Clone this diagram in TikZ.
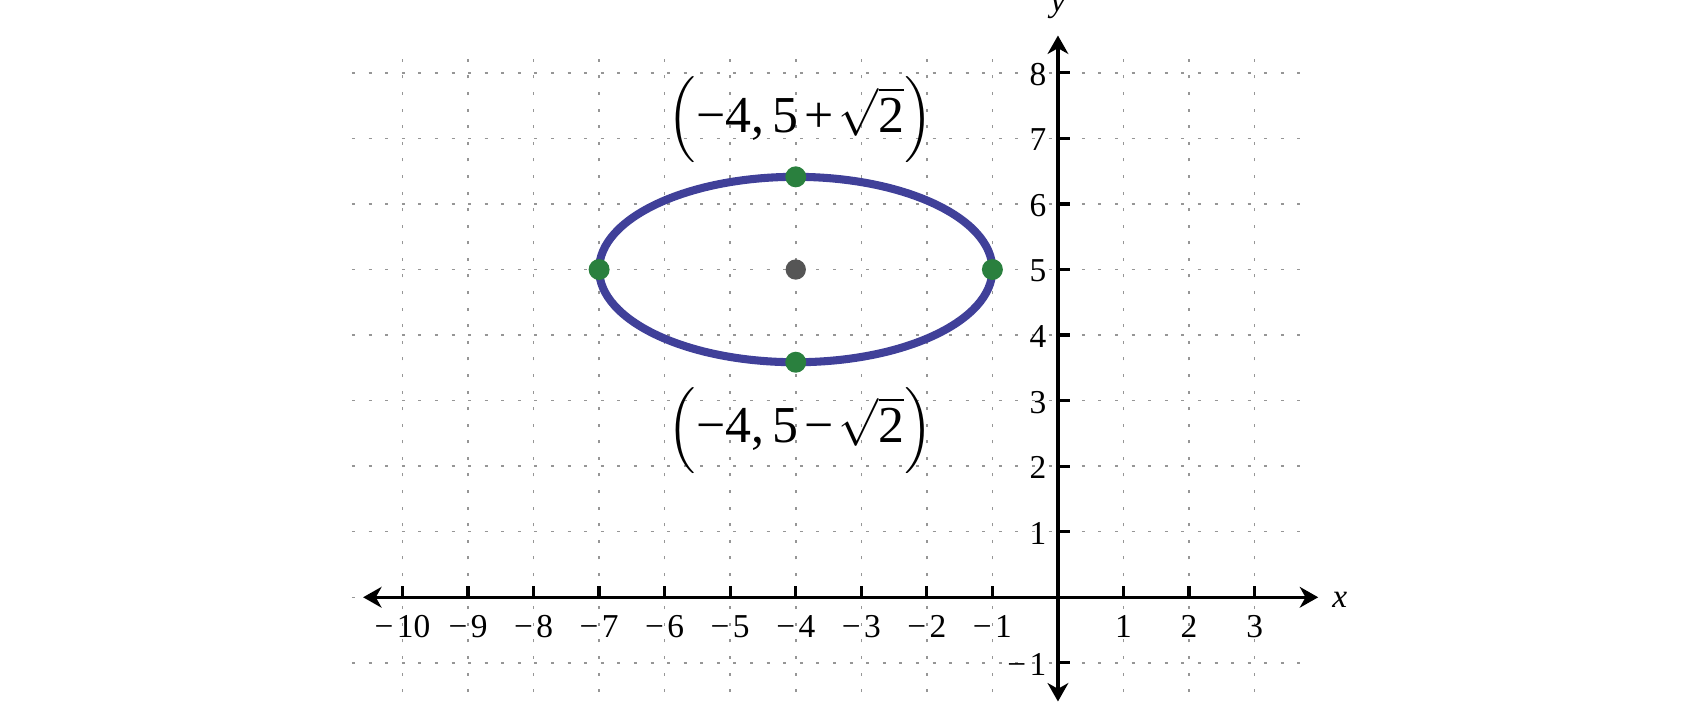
\documentclass[tikz,border=0pt]{standalone}
\usepackage{amsmath}
\usepackage{fontspec}
\setmainfont{Liberation Serif}
\usetikzlibrary{arrows.meta}
\definecolor{ellblue}{RGB}{64,64,153}
\definecolor{ptgreen}{RGB}{42,128,62}
\definecolor{ctrgray}{RGB}{85,85,85}
\definecolor{gridgray}{RGB}{150,150,150}
\begin{document}
\begin{tikzpicture}[
  gridline/.style={gridgray, line width=0.65pt, dash pattern=on 1.3pt off 5.9pt},
  axisline/.style={line width=1.4pt, {Stealth[length=8pt,width=9pt,inset=2.5pt]}-{Stealth[length=8pt,width=9pt,inset=2.5pt]}},
  tickline/.style={line width=1.4pt},
  ticklabel/.style={font=\fontsize{14.5}{16}\selectfont, inner sep=0pt},
  axislabel/.style={font=\fontsize{14.5}{16}\selectfont\itshape, inner sep=0pt},
  ptlabel/.style={font=\fontsize{22.5}{27}\selectfont, inner sep=0pt},
  vertexdot/.style={circle, fill=ptgreen, minimum size=0.32cm, inner sep=0pt},
  centerdot/.style={circle, fill=ctrgray, minimum size=0.31cm, inner sep=0pt}
]
\useasboundingbox (-16.14,-1.628) rectangle (9.795,9.112);
% grid
\foreach \j in {-1,...,8} {
  \draw[gridline] (-10.77,\j) -- (3.73,\j);
}
\foreach \i in {-10,...,3} {
  \draw[gridline] (\i,-1.7) -- (\i,8.4);
}
% axes
\coordinate (xl) at (-10.6,0);
\coordinate (xr) at (3.97,0);
\coordinate (yb) at (0,-1.59);
\coordinate (yt) at (0,8.57);
\draw[axisline] (xl) -- (xr);
\draw[axisline] (yb) -- (yt);
% ticks
\foreach \i in {1,2,...,10} {
  \draw[tickline] (-\i,0) -- (-\i,0.17);
  \node[ticklabel, anchor=base] (txm\i) at (-\i,-0.61) {−\hspace{1.5pt}\i};
}
\foreach \i in {1,2,3} {
  \draw[tickline] (\i,0) -- (\i,0.17);
  \node[ticklabel, anchor=base] (tx\i) at (\i,-0.61) {\i};
}
\foreach \j in {1,2,...,8} {
  \draw[tickline] (0,\j) -- (0.18,\j);
  \node[ticklabel, anchor=base east] (ty\j) at (-0.17,\j-0.19) {\j};
}
\draw[tickline] (0,-1) -- (0.18,-1);
\node[ticklabel, anchor=base east] (tym1) at (-0.17,-1.19) {−\hspace{1.5pt}1};
\node[axislabel, anchor=base] (xlab) at (4.30,-0.16) {x};
\node[axislabel, anchor=base] (ylab) at (0,8.93) {y};
% ellipse
\draw[ellblue, line width=3.5pt] (-4,5) ellipse [x radius=3, y radius={sqrt(2)}];
\node[centerdot] (C) at (-4,5) {};
\node[vertexdot] (L) at (-7,5) {};
\node[vertexdot] (R) at (-1,5) {};
\node[vertexdot] (T) at (-4,{5+sqrt(2)}) {};
\node[vertexdot] (B) at (-4,{5-sqrt(2)}) {};
% labels
\node[ptlabel] (Tlab) at (-3.93,7.28) {$\Bigl(\mbox{−4,\,5}\mkern2mu\mbox{+}\mkern2mu\sqrt{\mbox{2}}\Bigr)$};
\node[ptlabel] (Blab) at (-3.93,2.55) {$\Bigl(\mbox{−4,\,5}\mkern2mu\mbox{−}\mkern2mu\sqrt{\mbox{2}}\Bigr)$};
\end{tikzpicture}
\end{document}
